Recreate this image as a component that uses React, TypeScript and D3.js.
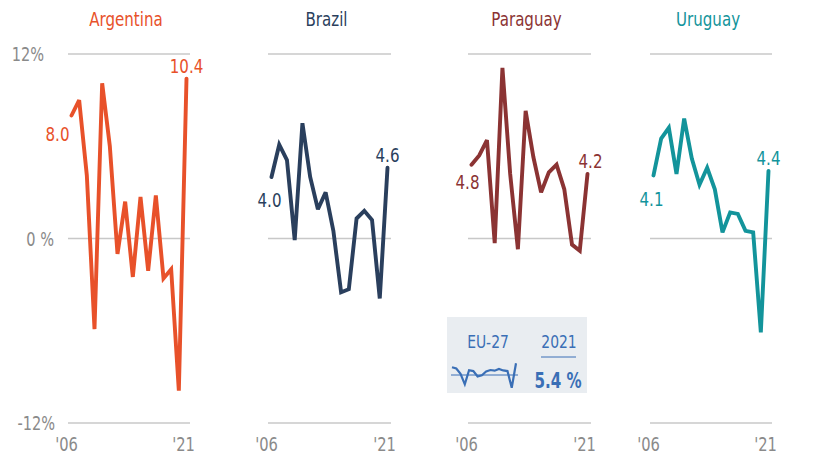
import React from "react";
import * as d3 from "d3";

const years = d3.range(2006, 2022);
const argentina = [8.0, 9.0, 4.1, -5.9, 10.1, 6.0, -1.0, 2.4, -2.5, 2.7, -2.1, 2.8, -2.6, -2.0, -9.9, 10.4];
const brazil = [4.0, 6.1, 5.1, -0.1, 7.5, 4.0, 1.9, 3.0, 0.5, -3.5, -3.3, 1.3, 1.8, 1.2, -3.9, 4.6];
const paraguay = [4.8, 5.4, 6.4, -0.3, 11.1, 4.2, -0.7, 8.3, 5.3, 3.0, 4.3, 4.8, 3.2, -0.4, -0.8, 4.2];
const uruguay = [4.1, 6.5, 7.2, 4.2, 7.8, 5.2, 3.5, 4.6, 3.2, 0.4, 1.7, 1.6, 0.5, 0.4, -6.1, 4.4];
const eu27 = [3.6, 3.0, 0.5, -4.3, 2.2, 1.8, -0.7, -0.1, 1.6, 2.3, 2.0, 2.8, 2.1, 1.8, -5.9, 5.4];
const yTicks = [12, 0, -12];
const yTickLabels = ["12%", "0 %", "-12%"];
const xTickLabels = ["'06", "'21"];

const FONT = "'DejaVu Sans Condensed', 'Liberation Sans Narrow', sans-serif";

const panels = [
  { name: "Argentina", values: argentina, color: "#e8512a", x0: 68, x1: 190, sdx: -14, sdy: 25, edx: 0 },
  { name: "Brazil", values: brazil, color: "#2a3f5d", x0: 268, x1: 391, sdx: -2, sdy: 30, edx: 0 },
  { name: "Paraguay", values: paraguay, color: "#8b3333", x0: 468, x1: 591, sdx: -4, sdy: 24, edx: 3 },
  { name: "Uruguay", values: uruguay, color: "#13949b", x0: 650, x1: 772, sdx: -2, sdy: 31, edx: 0 },
];

const y = d3.scaleLinear().domain([-12, 12]).range([423, 54]);

function T(props: { x: number; y: number; sx?: number; anchor?: string; size: number; fill: string; weight?: string; children: React.ReactNode }) {
  const sx = props.sx ?? 0.86;
  return (
    <text
      transform={`translate(${props.x},${props.y}) scale(${sx},1)`}
      textAnchor={props.anchor ?? "middle"}
      fontSize={props.size}
      fill={props.fill}
      fontWeight={props.weight ?? "normal"}
    >
      {props.children}
    </text>
  );
}

export default function App() {
  const gridColor = "#c8c8c8";
  const tickColor = "#8a8a8a";
  const blue = "#3a6fb6";
  const ex = d3.scaleLinear().domain([2006, 2021]).range([452, 516]);
  const ey = d3.scaleLinear().domain([-6, 6]).range([388, 362]);
  const euLine = d3.line<number>().x((_, i) => ex(years[i])).y((d) => ey(d));
  return (
    <svg width={823} height={455} style={{ position: "absolute", left: 0, top: 0, background: "#fff" }} fontFamily={FONT}>
      {yTicks.map((t, i) => (
        <T key={t} x={[44, 54, 55][i]} y={y(t) + 7} anchor="end" size={19} fill={tickColor} sx={0.85}>
          {yTickLabels[i]}
        </T>
      ))}
      {panels.map((p) => {
        const x = d3.scaleLinear().domain([2006, 2021]).range([p.x0 + 3.5, p.x1 - 3.5]);
        const line = d3.line<number>().x((_, i) => x(years[i])).y((d) => y(d));
        const n = p.values.length;
        return (
          <g key={p.name}>
            <T x={(p.x0 + p.x1) / 2 - 3} y={26} size={19.5} fill={p.color}>
              {p.name}
            </T>
            {yTicks.map((t) => (
              <line key={t} x1={p.x0} x2={p.x1} y1={y(t)} y2={y(t)} stroke={gridColor} strokeWidth={1.5} />
            ))}
            <path d={line(p.values) || ""} fill="none" stroke={p.color} strokeWidth={3.9} strokeLinejoin="miter" strokeMiterlimit={3} strokeLinecap="round" />
            <T x={x(years[0]) + p.sdx} y={y(p.values[0]) + p.sdy} size={19.5} fill={p.color}>
              {p.values[0].toFixed(1)}
            </T>
            <T x={x(years[n - 1]) + p.edx} y={y(p.values[n - 1]) - 6} size={19.5} fill={p.color}>
              {p.values[n - 1].toFixed(1)}
            </T>
            <T x={x(years[0]) - 5} y={451} size={19} fill={tickColor}>
              {xTickLabels[0]}
            </T>
            <T x={x(years[n - 1]) - 3} y={451} size={19} fill={tickColor}>
              {xTickLabels[1]}
            </T>
          </g>
        );
      })}
      <g>
        <rect x={447} y={317} width={140} height={76} fill="#e9edf1" />
        <T x={488} y={348} size={18} fill={blue}>EU-27</T>
        <T x={559} y={348} size={18} fill={blue}>2021</T>
        <line x1={541} x2={576} y1={357} y2={357} stroke={blue} strokeWidth={1} />
        <line x1={451} x2={518} y1={ey(0)} y2={ey(0)} stroke={blue} strokeWidth={1} />
        <path d={euLine(eu27) || ""} fill="none" stroke={blue} strokeWidth={2.2} />
        <T x={558} y={388} size={21} weight="bold" fill={blue} sx={0.8}>
          {eu27[eu27.length - 1].toFixed(1)} %
        </T>
      </g>
    </svg>
  );
}
